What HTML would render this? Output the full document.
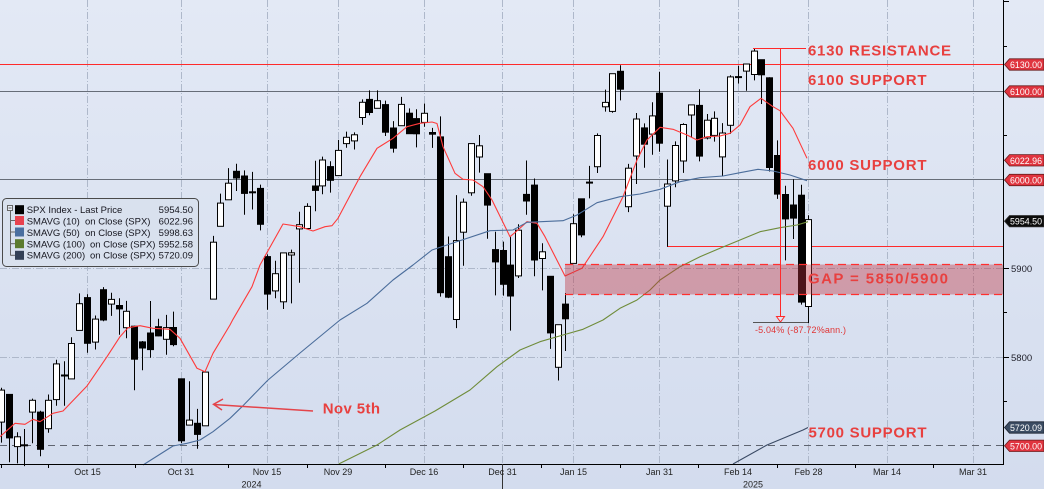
<!DOCTYPE html>
<html><head><meta charset="utf-8">
<style>
html,body{margin:0;padding:0;width:1044px;height:489px;overflow:hidden;background:#dde4f1;}
svg{display:block;font-family:"Liberation Sans",Arial,sans-serif;}
</style></head>
<body>
<svg width="1044" height="489" viewBox="0 0 1044 489" xmlns="http://www.w3.org/2000/svg">
<defs>
<linearGradient id="bg" x1="0" y1="0" x2="0" y2="1">
<stop offset="0" stop-color="#e3e9f5"/><stop offset="1" stop-color="#d3dcee"/>
</linearGradient>
</defs>
<rect width="1044" height="489" fill="url(#bg)"/>

<!-- grid -->
<g stroke="#aeb8ca" stroke-width="1" stroke-dasharray="7,2,1,2" fill="none">
<line x1="87.5" y1="0" x2="87.5" y2="464"/>
<line x1="181.5" y1="0" x2="181.5" y2="464"/>
<line x1="267.5" y1="0" x2="267.5" y2="464"/>
<line x1="338.5" y1="0" x2="338.5" y2="464"/>
<line x1="424.5" y1="0" x2="424.5" y2="464"/>
<line x1="502.5" y1="0" x2="502.5" y2="464"/>
<line x1="573.5" y1="0" x2="573.5" y2="464"/>
<line x1="659.5" y1="0" x2="659.5" y2="464"/>
<line x1="738.5" y1="0" x2="738.5" y2="464"/>
<line x1="808.5" y1="0" x2="808.5" y2="464"/>
<line x1="887.5" y1="0" x2="887.5" y2="464"/>
<line x1="973.5" y1="0" x2="973.5" y2="464"/>
<line x1="0" y1="268.5" x2="1003" y2="268.5"/>
<line x1="0" y1="357.5" x2="1003" y2="357.5"/>
</g>

<!-- reference lines -->
<line x1="0" y1="91.5" x2="1003" y2="91.5" stroke="#676d78" stroke-width="1"/>
<line x1="0" y1="179.5" x2="1003" y2="179.5" stroke="#676d78" stroke-width="1"/>
<line x1="0" y1="445.5" x2="1003" y2="445.5" stroke="#5f6470" stroke-width="1" stroke-dasharray="7,5"/>
<line x1="0" y1="64.5" x2="1003" y2="64.5" stroke="#ff2a2a" stroke-width="1"/>
<line x1="667" y1="246.5" x2="1003" y2="246.5" stroke="#ff2a2a" stroke-width="1"/>

<!-- candles -->
<g id="candles" stroke="#000" stroke-width="1"></g>

<!-- moving averages -->
<g fill="none" stroke-width="1.1" stroke-linejoin="round">
<polyline stroke="#ff3a3a" points="0,436.7 15,423.3 25,424.3 33,419.3 40,421.7 53,413.3 63,411 87,386 107,356.7 120,336.7 128,327.7 140,325.7 153,328.3 170,329.3 180,338.3 197,368.3 205,371.7 213,353.3 230,325 233,319.3 252,286.7 260,265 283,224 300,226.7 313,231 325,226.7 332,225.7 338,218.3 360,176.7 377,148.3 393,138.3 407,126.7 420,123.3 432,122 437,123.5 443,146.7 455,173.3 463,179.3 473,180 483,186.7 492,200 510,236.7 518,230 527,221.7 537,223.3 545,236.7 565,276 582,268.3 603,236.7 623,196.7 637,160 647,140 660,127.3 673,129.3 687,135 697,140 707,136.7 720,136 730,133.3 740,125 750,106.7 761,98.3 773,106.7 780,110.7 793,128.3 807,158.3"/>
<polyline stroke="#4b6d9b" points="143,465 173,446 187,443.3 200,440 213,431.7 230,418.3 242,406.7 268,380 300,353 340,320 367,303.3 393,280 413,265 432,250 450,244 490,230.7 513,230 527,222.3 563,220.7 577,215 597,202.7 620,196.7 640,194 660,189.3 680,181.7 700,177.7 723,176 740,172.7 758,169.3 773,171 790,175 807,180.7"/>
<polyline stroke="#6f8c3a" points="338.7,464 377,445 400,430 435,411 470,390 497,366.7 520,350 540,341.7 563,335 583,329.3 603,320 620,308.3 637,300 650,290 660,280 680,266.7 700,256.7 720,248.3 740,240 760,231.7 780,227.7 797,225 808,221.7"/>
<polyline stroke="#3a4a64" points="733,464 767,445 803,430 808,427.5"/>
</g>

<!-- GAP box -->
<rect x="565" y="264.5" width="438" height="30" fill="rgb(190,50,62)" fill-opacity="0.4"/>
<line x1="565" y1="264.5" x2="1003" y2="264.5" stroke="#ff3030" stroke-width="1.2" stroke-dasharray="8,5"/>
<line x1="565" y1="294.5" x2="1003" y2="294.5" stroke="#ff3030" stroke-width="1.2" stroke-dasharray="8,5"/>

<!-- measurement annotation -->
<line x1="753" y1="48.5" x2="806" y2="48.5" stroke="#ff2a2a" stroke-width="1"/>
<line x1="780.5" y1="48.5" x2="780.5" y2="316" stroke="#ff2a2a" stroke-width="1"/>
<polygon points="776.5,316.5 784.5,316.5 780.5,322" fill="#dfe5f1" stroke="#ff2a2a" stroke-width="1"/>
<line x1="753" y1="322.5" x2="808" y2="322.5" stroke="#555" stroke-width="1"/>
<text x="755" y="333" font-size="9" fill="#e03535" textLength="91" lengthAdjust="spacing">-5.04% (-87.72%ann.)</text>

<!-- Nov 5th arrow -->
<line x1="313" y1="411" x2="214" y2="404.5" stroke="#e4444a" stroke-width="1.5"/>
<polyline points="223,399 213.5,404.3 222,410" fill="none" stroke="#e4444a" stroke-width="1.5"/>

<!-- annotation texts -->
<g font-size="15" font-weight="bold" fill="#e8403f">
<text x="808" y="55.7" textLength="143" lengthAdjust="spacing">6130 RESISTANCE</text>
<text x="808" y="85" textLength="118.5" lengthAdjust="spacing">6100 SUPPORT</text>
<text x="808" y="170" textLength="118.5" lengthAdjust="spacing">6000 SUPPORT</text>
<text x="808" y="283.3" textLength="140" lengthAdjust="spacing">GAP = 5850/5900</text>
<text x="808.5" y="437.5" textLength="118" lengthAdjust="spacing">5700 SUPPORT</text>
<text x="322.7" y="413.3" textLength="57.3" lengthAdjust="spacing">Nov 5th</text>
</g>

<!-- axes -->
<line x1="1003.5" y1="0" x2="1003.5" y2="465" stroke="#000" stroke-width="1"/>
<line x1="0" y1="464.5" x2="1004" y2="464.5" stroke="#000" stroke-width="1"/>
<line x1="502.5" y1="464" x2="502.5" y2="489" stroke="#333" stroke-width="1"/>
<g stroke="#000" stroke-width="1">
<line x1="1.5" y1="464" x2="1.5" y2="468"/>
<line x1="48.5" y1="464" x2="48.5" y2="468"/>
<line x1="135.5" y1="464" x2="135.5" y2="468"/>
<line x1="228.5" y1="464" x2="228.5" y2="468"/>
<line x1="307.5" y1="464" x2="307.5" y2="468"/>
<line x1="385.5" y1="464" x2="385.5" y2="468"/>
<line x1="463.5" y1="464" x2="463.5" y2="468"/>
<line x1="541.5" y1="464" x2="541.5" y2="468"/>
<line x1="620.5" y1="464" x2="620.5" y2="468"/>
<line x1="698.5" y1="464" x2="698.5" y2="468"/>
<line x1="777.5" y1="464" x2="777.5" y2="468"/>
<line x1="855.5" y1="464" x2="855.5" y2="468"/>
<line x1="933.5" y1="464" x2="933.5" y2="468"/>
<!-- right ticks -->
<line x1="1003" y1="1.5" x2="1009" y2="1.5"/>
<line x1="1003" y1="46.5" x2="1007" y2="46.5"/>
<line x1="1003" y1="135.5" x2="1007" y2="135.5"/>
<line x1="1003" y1="268.5" x2="1009" y2="268.5"/>
<line x1="1003" y1="312.5" x2="1007" y2="312.5"/>
<line x1="1003" y1="357.5" x2="1009" y2="357.5"/>
<line x1="1003" y1="401.5" x2="1007" y2="401.5"/>
</g>
<g font-size="9.5" fill="#1e1e28">
<text x="1011" y="271.8">5900</text>
<text x="1011" y="360.8">5800</text>
</g>

<!-- x labels -->
<g font-size="9" fill="#222" text-anchor="middle">
<text x="87.5" y="474.8">Oct 15</text>
<text x="181" y="474.8">Oct 31</text>
<text x="267" y="474.8">Nov 15</text>
<text x="338" y="474.8">Nov 29</text>
<text x="424" y="474.8">Dec 16</text>
<text x="502.5" y="474.8">Dec 31</text>
<text x="573.5" y="474.8">Jan 15</text>
<text x="659.5" y="474.8">Jan 31</text>
<text x="738" y="474.8">Feb 14</text>
<text x="808.5" y="474.8">Feb 28</text>
<text x="887" y="474.8">Mar 14</text>
<text x="973" y="474.8">Mar 31</text>
<text x="251.5" y="487.5">2024</text>
<text x="753" y="487.5">2025</text>
</g>

<!-- price tags -->
<g font-size="9.5" fill="#fff" stroke-width="0.8">
<polygon points="1004.5,64.5 1009.5,58.8 1044,58.8 1044,70.2 1009.5,70.2" fill="#e0343f" stroke="#6a1c1c"/>
<text x="1010" y="68" textLength="32" lengthAdjust="spacingAndGlyphs" stroke="none">6130.00</text>
<polygon points="1004.5,91.5 1009.5,85.8 1044,85.8 1044,97.2 1009.5,97.2" fill="#e0343f" stroke="#6a1c1c"/>
<text x="1010" y="95" textLength="32" lengthAdjust="spacingAndGlyphs" stroke="none">6100.00</text>
<polygon points="1004.5,160.3 1009.5,154.6 1044,154.6 1044,166 1009.5,166" fill="#e0343f" stroke="#6a1c1c"/>
<text x="1010" y="163.8" textLength="32" lengthAdjust="spacingAndGlyphs" stroke="none">6022.96</text>
<polygon points="1004.5,180 1009.5,174.3 1044,174.3 1044,185.7 1009.5,185.7" fill="#e0343f" stroke="#6a1c1c"/>
<text x="1010" y="183.5" textLength="32" lengthAdjust="spacingAndGlyphs" stroke="none">6000.00</text>
<polygon points="1004.5,221.2 1009.5,215.5 1044,215.5 1044,226.9 1009.5,226.9" fill="#0b0b0b" stroke="#333"/>
<text x="1010" y="224.7" textLength="32" lengthAdjust="spacingAndGlyphs" stroke="none">5954.50</text>
<polygon points="1004.5,427.5 1009.5,421.8 1044,421.8 1044,433.2 1009.5,433.2" fill="#3b4c63" stroke="#1e2633"/>
<text x="1010" y="431" textLength="32" lengthAdjust="spacingAndGlyphs" stroke="none">5720.09</text>
<polygon points="1004.5,445.8 1009.5,440.1 1044,440.1 1044,451.5 1009.5,451.5" fill="#e0343f" stroke="#6a1c1c"/>
<text x="1010" y="449.3" textLength="32" lengthAdjust="spacingAndGlyphs" stroke="none">5700.00</text>
</g>

<!-- legend -->
<rect x="2.5" y="198.5" width="196" height="68" rx="4" fill="#d9e1ee" stroke="#4a4a4a" stroke-width="1"/>
<g stroke="#666" stroke-width="1" fill="none">
<rect x="7.5" y="205.5" width="5" height="5" fill="#e8edf6"/>
<line x1="8.5" y1="208" x2="11.5" y2="208"/>
<line x1="10.5" y1="211" x2="10.5" y2="255.5"/>
<line x1="10.5" y1="220.5" x2="15" y2="220.5"/>
<line x1="10.5" y1="232" x2="15" y2="232"/>
<line x1="10.5" y1="243.7" x2="15" y2="243.7"/>
<line x1="10.5" y1="255.3" x2="15" y2="255.3"/>
</g>
<rect x="15" y="205.2" width="9" height="9" fill="#000"/>
<rect x="15" y="216" width="9" height="9" fill="#e8424f"/>
<rect x="15" y="227.5" width="9" height="9" fill="#4a6fa0"/>
<rect x="15" y="239.2" width="9" height="9" fill="#5c7b2e"/>
<rect x="15" y="250.8" width="9" height="9" fill="#334056"/>
<g font-size="9.5" fill="#16161f">
<text x="26.7" y="213.1">SPX Index - Last Price</text>
<text x="193" y="213.1" text-anchor="end">5954.50</text>
<text x="26.7" y="224.5">SMAVG (10)</text><text x="85" y="224.5">on Close (SPX)</text>
<text x="193" y="224.5" text-anchor="end">6022.96</text>
<text x="26.7" y="235.9">SMAVG (50)</text><text x="85" y="235.9">on Close (SPX)</text>
<text x="193" y="235.9" text-anchor="end">5998.63</text>
<text x="26.7" y="247.3">SMAVG (100)</text><text x="90" y="247.3">on Close (SPX)</text>
<text x="193" y="247.3" text-anchor="end">5952.58</text>
<text x="26.7" y="258.7">SMAVG (200)</text><text x="90" y="258.7">on Close (SPX)</text>
<text x="193" y="258.7" text-anchor="end">5720.09</text>
</g>
</svg>

<script>
(function(){
var D=[
[5726.5,5765.1,5703.5,5762.5],[5757.7,5757.7,5681.3,5708.75],[5699,5715,5680,5710],[5701,5718.8,5677,5699.9],
[5737.8,5753,5702.8,5751.1],[5737.8,5739.3,5688,5695.9],[5719.1,5757.6,5714.6,5751.1],[5751.8,5796.8,5745,5792],
[5779.5,5795,5745,5778.4],[5775.1,5822.1,5775.1,5815],[5829.8,5871.4,5829.8,5859.85],[5866.7,5870.4,5804.5,5815.3],
[5816.6,5846.5,5808.3,5842.5],[5875.6,5878.5,5840,5841.5],[5859.4,5872.2,5846.1,5864.7],[5857.8,5866,5824.8,5854],
[5832.7,5863,5821,5851.2],[5834.5,5834.9,5762.4,5797.4],[5816.8,5817.8,5784.9,5809.9],[5826.8,5862.8,5799,5808.1],
[5833.9,5842.9,5823.1,5823.5],[5819.7,5847.2,5802.4,5832.9],[5833,5850.9,5811.9,5813.7],[5775.3,5775.3,5702.9,5705.45],
[5723.2,5772.5,5723.2,5728.8],[5725.2,5741.4,5696.5,5712.7],[5722.4,5783.4,5722.1,5782.8],[5864.9,5936.1,5864.9,5929],
[5947,5983.8,5947,5973.1],[5976.8,6012.5,5976.8,5995.5],[6008.9,6017.3,5986.7,6001.35],[6003.6,6009.9,5960,5984],
[5985.75,6008.2,5965.9,5985.4],[5989.6,5993.9,5942.3,5949.2],[5912.8,5915.3,5853,5870.6],[5874.2,5908.1,5866,5893.6],
[5862,5917,5853.9,5917],[5914.6,5920.7,5860.2,5917.1],[5944,5963.3,5883.5,5948.7],[5944.4,5972.9,5944.4,5969.3],
[5992.3,6020.75,5963.9,5987.4],[5992.4,6025.4,5983.1,6021.6],[6014.1,6020.2,5984.9,5998.7],[6004,6044.2,6004,6032.4],
[6040.1,6053.6,6035.3,6047.15],[6043,6052.6,6033.4,6049.9],[6069.4,6089.8,6061.1,6086.5],[6089.8,6099.97,6072,6075.1],
[6079.8,6099.97,6079.8,6088.3],[6083.95,6088.5,6048.6,6052.85],[6057.6,6065.4,6029.9,6034.9],[6060.2,6092.6,6060.2,6084.2],
[6074.3,6079.7,6051.25,6051.25],[6068.2,6078.6,6035.8,6051.1],[6063.8,6085.2,6059.1,6074.1],[6052.55,6057.7,6035.2,6050.6],
[6047.6,6070.7,5867.8,5872.2],[5912.7,5935.5,5866.1,5867.1],[5842,5982.1,5832.3,5930.85],[5940.3,5978.25,5902.6,5974.1],
[5984.7,6040.1,5981.4,6040.04],[6024.97,6049.75,6007.4,6037.6],[6006.2,6006.2,5932.95,5970.8],[5920.7,5940.8,5869.2,5906.9],
[5919.7,5929.7,5868.9,5881.6],[5903.3,5935.1,5829.5,5868.55],[5891,5949.3,5888.7,5942.5],[5982.8,6021,5960,5975.4],
[5993.3,6000.7,5890.7,5909],[5910.7,5927.9,5874.8,5918.25],[5890.7,5890.7,5808.9,5827],[5788.2,5836.4,5773.3,5836.2],
[5859.4,5871.9,5806.6,5842.9],[5905.2,5960.6,5905.2,5949.9],[5977.9,5977.9,5934.7,5937.3],[5995.9,6014.96,5978.4,5996.7],
[6014.1,6051.5,6006.9,6049.2],[6081.4,6100.8,6076.1,6086.4],[6076.3,6118.7,6074.7,6118.7],[6121.4,6128.2,6088.7,6101.2],
[5969,6017.2,5962.9,6012.3],[6026,6074.5,5994.6,6067.7],[6057.7,6062.8,6012.96,6039.3],[6050.75,6086.6,6027.5,6071.2],
[6096.8,6120.9,6030.9,6040.5],[5969.65,6022.1,5923.9,5994.6],[5998.1,6042.5,5990.9,6037.9],[6020.45,6062.9,6007.1,6061.5],
[6072.2,6084,6046.8,6083.6],[6083.1,6101.3,6020,6026],[6046.4,6073.4,6044.8,6066.4],[6049.3,6076.3,6042.3,6068.5],
[6025.1,6063.1,6003,6051.97],[6060.6,6116.9,6051,6115.1],[6115.5,6127.5,6107.6,6114.6],[6121.6,6129.6,6099.5,6129.6],
[6117.8,6147.4,6111.2,6144.15],[6134.5,6134.5,6084.6,6117.5],[6114.1,6114.8,6008.6,6013.1],[6026.7,6043.6,5977.8,5983.25],
[5982.7,5992.65,5908.5,5955.25],[5970.9,6000,5932.7,5956.1],[5981.9,5993.7,5858.8,5861.6],[5856.7,5959.4,5837.7,5954.5]
];
function Y(p){return 268-(p-5900)*0.8883;}
var NS="http://www.w3.org/2000/svg";
var g=document.getElementById('candles');
for(var i=0;i<D.length;i++){
  var d=D[i],o=d[0],h=d[1],l=d[2],c=d[3];
  var cx=Math.round(0.9+7.84*i);
  var up=c>=o;
  var t=Y(Math.max(o,c)),b=Y(Math.min(o,c));
  var ln=document.createElementNS(NS,'line');
  ln.setAttribute('x1',cx+0.5);ln.setAttribute('x2',cx+0.5);
  ln.setAttribute('y1',Y(h).toFixed(1));ln.setAttribute('y2',Y(l).toFixed(1));
  g.appendChild(ln);
  var r=document.createElementNS(NS,'rect');
  r.setAttribute('x',cx-2.5);r.setAttribute('width',6);
  r.setAttribute('y',t.toFixed(1));r.setAttribute('height',Math.max(b-t,1).toFixed(1));
  r.setAttribute('fill',up?'#ffffff':'#000000');
  g.appendChild(r);
}
})();
</script>
</body></html>
